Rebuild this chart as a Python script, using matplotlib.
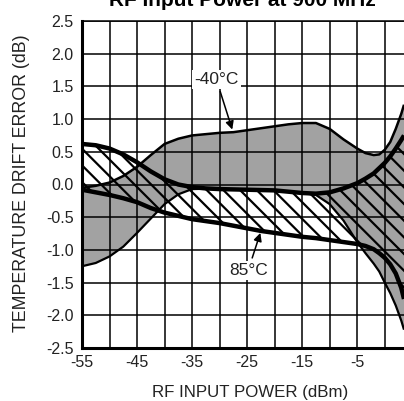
import matplotlib
matplotlib.use("Agg")
import matplotlib.pyplot as plt
import numpy as np

plt.rcParams['font.family'] = ['Liberation Sans', 'DejaVu Sans']
plt.rcParams['hatch.linewidth'] = 1.6

# RF input power (dBm)
power = [-55, -52.5, -50, -47.5, -45, -42.5, -40, -37.5, -35, -32.5, -30, -27.5,
         -25, -22.5, -20, -17.5, -15, -12.5, -10, -7.5, -5, -3.5, -2, -1, 0, 1, 2, 3, 3.5]
# -40 C band (gray): upper and lower bounds (dB)
cold_upper = [-0.05, -0.02, 0.03, 0.13, 0.27, 0.45, 0.62, 0.70, 0.75, 0.77, 0.79, 0.80,
              0.83, 0.86, 0.89, 0.92, 0.94, 0.94, 0.85, 0.69, 0.55, 0.48, 0.45, 0.46,
              0.53, 0.65, 0.85, 1.08, 1.22]
cold_lower = [-1.25, -1.20, -1.10, -0.95, -0.74, -0.52, -0.30, -0.15, -0.07, -0.065, -0.07,
              -0.075, -0.08, -0.085, -0.09, -0.11, -0.13, -0.16, -0.30, -0.55, -0.88,
              -1.05, -1.21, -1.33, -1.50, -1.66, -1.85, -2.08, -2.22]
# 85 C band (hatched): upper and lower bounds (dB)
hot_upper = [0.62, 0.60, 0.55, 0.46, 0.34, 0.20, 0.08, 0.00, -0.04, -0.06, -0.07, -0.075,
             -0.08, -0.085, -0.09, -0.11, -0.13, -0.14, -0.12, -0.06, 0.02, 0.09, 0.17,
             0.25, 0.33, 0.43, 0.55, 0.68, 0.75]
hot_lower = [-0.08, -0.12, -0.16, -0.21, -0.27, -0.36, -0.43, -0.48, -0.53, -0.56, -0.59,
             -0.63, -0.67, -0.71, -0.74, -0.77, -0.80, -0.82, -0.85, -0.88, -0.91, -0.94,
             -0.99, -1.05, -1.12, -1.22, -1.36, -1.58, -1.75]

x_labels = ['-55', '-45', '-35', '-25', '-15', '-5']
y_ticks = [-2.5, -2.0, -1.5, -1.0, -0.5, 0.0, 0.5, 1.0, 1.5, 2.0, 2.5]

fig = plt.figure(figsize=(4.04, 4.01), dpi=100)
ax = fig.add_axes([82/404, 1 - 348/401, 1 - 82/404, (348 - 21)/401])

ax.fill_between(power, cold_upper, cold_lower, facecolor='#a2a2a2', edgecolor='none',
                linewidth=0, zorder=1)
ax.fill_between(power, hot_upper, hot_lower, facecolor='none', edgecolor='black',
                hatch='\\\\', linewidth=0, zorder=3)
ax.plot(power, cold_upper, color='black', lw=1.8, zorder=4, solid_capstyle='butt')
ax.plot(power, cold_lower, color='black', lw=1.6, zorder=4, solid_capstyle='butt')
ax.plot(power, hot_upper, color='black', lw=3.2, zorder=5, solid_capstyle='butt')
ax.plot(power, hot_lower, color='black', lw=3.2, zorder=5, solid_capstyle='butt')

ax.set_xlim(-55, 3.5)
ax.set_ylim(-2.5, 2.5)
ax.set_xticks(np.arange(-55, 3, 5))
ax.set_xticklabels([lab if lab in x_labels else '' for lab in
                    ['%d' % v for v in np.arange(-55, 3, 5)]])
ax.set_yticks(y_ticks)
ax.set_yticklabels(['%.1f' % v for v in y_ticks])
ax.tick_params(length=0, labelsize=11.5, colors='#222222')
ax.tick_params(axis='y', pad=6)
ax.tick_params(axis='x', pad=5)
ax.set_axisbelow(False)
ax.grid(True, color='black', lw=1.1)

for s in ['left', 'bottom']:
    ax.spines[s].set_linewidth(2.2)
ax.spines['top'].set_linewidth(1.1)
ax.spines['right'].set_visible(False)

ax.set_xlabel('RF INPUT POWER (dBm)', fontsize=12.2, color='#222222')
ax.xaxis.set_label_coords((250 - 82) / (404 - 82), -(392 - 348) / (348 - 21), transform=ax.transAxes)
ax.xaxis.label.set_va('center')
ax.set_ylabel('TEMPERATURE DRIFT ERROR (dB)', fontsize=12.8, color='#222222')
ax.yaxis.set_label_coords(-(82 - 22) / (404 - 82), (348 - 183) / (348 - 21), transform=ax.transAxes)
ax.yaxis.label.set_va('center')

box = dict(boxstyle='square,pad=0.12', facecolor='white', edgecolor='none')
ax.annotate('-40°C', xy=(-27.7, 0.84), xytext=(-30.6, 1.61), fontsize=12.5,
            ha='center', va='center', color='#222222', zorder=6, bbox=box,
            arrowprops=dict(arrowstyle='-|>', color='black', lw=1.1, mutation_scale=12,
                            shrinkA=2, shrinkB=0))
ax.annotate('85°C', xy=(-22.6, -0.74), xytext=(-24.8, -1.31), fontsize=12.5,
            ha='center', va='center', color='#222222', zorder=6, bbox=box,
            arrowprops=dict(arrowstyle='-|>', color='black', lw=1.1, mutation_scale=12,
                            shrinkA=2, shrinkB=0))

fig.text(242.5 / 404, 1 - 6 / 401, 'RF Input Power at 900 MHz', fontsize=15,
         fontweight='bold', ha='center', va='baseline')

fig.savefig('out.png', dpi=100)
